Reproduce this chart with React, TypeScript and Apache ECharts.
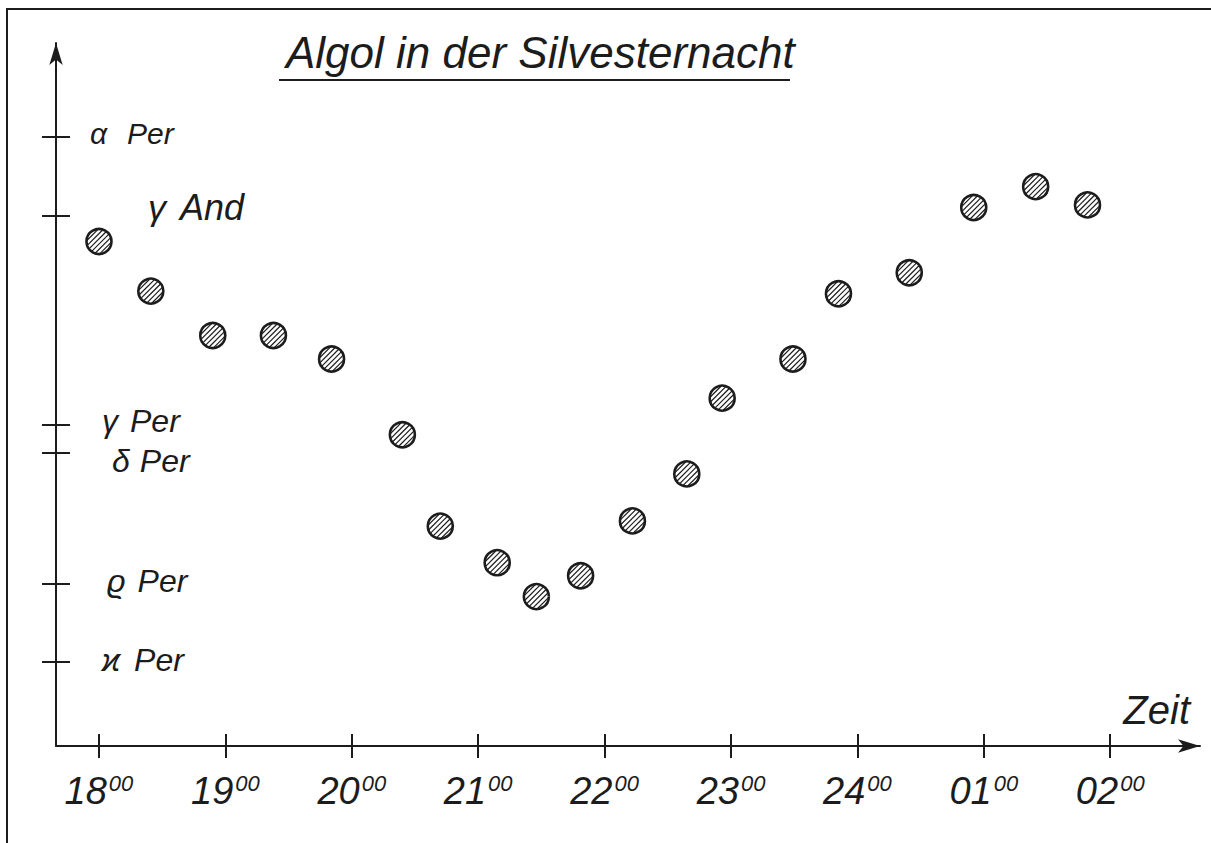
import { useEffect, useRef } from "react";
import * as echarts from "echarts";

// Observation times (hours since midnight of 31 Dec; 24 = midnight, 25 = 01:00 ...)
const times = [18.0, 18.41, 18.9, 19.38, 19.84, 20.4, 20.7, 21.15, 21.46, 21.81, 22.22, 22.65, 22.93, 23.49, 23.85, 24.41, 24.92, 25.41, 25.82];
// Estimated brightness of Algol (magnitude, smaller = brighter)
const brightness = [2.19, 2.38, 2.55, 2.55, 2.64, 2.93, 3.28, 3.42, 3.55, 3.47, 3.26, 3.08, 2.79, 2.64, 2.39, 2.31, 2.06, 1.98, 2.05];

// X axis ticks
const hourTicks = [18, 19, 20, 21, 22, 23, 24, 25, 26];
const hourLabels = ["18", "19", "20", "21", "22", "23", "24", "01", "02"];

// Comparison stars on the Y axis
const starGreek = ["α", "γ", "γ", "δ", "ϱ", "ϰ"];
const starNames = ["Per", "And", "Per", "Per", "Per", "Per"];
const starMags = [1.79, 2.09, 2.89, 3.0, 3.5, 3.8];

const INK = "#1c1c1c";
const FONT = "'Liberation Sans', 'DejaVu Sans', sans-serif";

// label layout tweaks (pixels): horizontal shift, vertical shift (neg = up), gap after greek letter, font size
const starLabelLayout = [
  { dx: 0, dy: -4, gap: 20, size: 30 },
  { dx: 58, dy: -8, gap: 14, size: 36 },
  { dx: 12, dy: -3, gap: 12, size: 32 },
  { dx: 22, dy: 8, gap: 10, size: 32 },
  { dx: 17, dy: -3, gap: 12, size: 32 },
  { dx: 12, dy: -2, gap: 14, size: 32 },
];

export default function App() {
  const ref = useRef<HTMLDivElement>(null);

  useEffect(() => {
    document.body.style.margin = "0";
    if (!ref.current) return;
    const chart = echarts.init(ref.current, undefined, { renderer: "svg" });

    const yMin = 1.43;
    const yMax = 4.122;
    const xMin = 17.66;
    const xMax = 26.71;

    const rich: Record<string, any> = {};
    starLabelLayout.forEach((l, i) => {
      const top = l.dy > 0 ? 2 * l.dy : 0;
      const bottom = l.dy < 0 ? -2 * l.dy : 0;
      rich["g" + i] = {
        fontSize: l.size,
        fontStyle: "italic",
        fontFamily: FONT,
        color: INK,
        padding: [top, l.gap, bottom, l.dx],
      };
      rich["n" + i] = {
        fontSize: l.size,
        fontStyle: "italic",
        fontFamily: FONT,
        color: INK,
        padding: [top, 0, bottom, 0],
      };
    });

    const lineStyle = { color: INK, width: 2 };

    const renderDot = (_params: any, api: any) => {
      const p = api.coord([api.value(0), api.value(1)]);
      const r = 12.5;
      const s = 3.7;
      const n = 6;
      const k = Math.SQRT1_2;
      const children: any[] = [
        { type: "circle", shape: { cx: p[0], cy: p[1], r }, style: { fill: "#ffffff", stroke: "none" } },
      ];
      for (let j = 0; j < n; j++) {
        const d = (j - (n - 1) / 2) * s;
        const L = Math.sqrt(Math.max(r * r - d * d, 0)) - 0.5;
        const cx = p[0] + d * k;
        const cy = p[1] + d * k;
        children.push({
          type: "line",
          shape: { x1: cx - L * k, y1: cy + L * k, x2: cx + L * k, y2: cy - L * k },
          style: { stroke: INK, lineWidth: 1.2 },
        });
      }
      children.push({
        type: "circle",
        shape: { cx: p[0], cy: p[1], r },
        style: { fill: "none", stroke: INK, lineWidth: 2.6 },
      });
      return { type: "group", children };
    };

    const option: any = {
      animation: false,
      backgroundColor: "#ffffff",
      title: {
        text: "Algol in der Silvesternacht",
        left: 286,
        top: 30,
        padding: 0,
        textStyle: {
          fontSize: 44,
          fontStyle: "italic",
          fontWeight: "normal",
          fontFamily: FONT,
          color: INK,
        },
      },
      grid: { left: 56, right: 11, top: 43, bottom: 97, containLabel: false },
      xAxis: [
        {
          type: "value",
          min: xMin,
          max: xMax,
          position: "bottom",
          axisLine: {
            show: true,
            onZero: false,
            lineStyle,
            symbol: ["none", "arrow"],
            symbolSize: [10, 22],
          },
          axisTick: { show: true, customValues: hourTicks, length: 12, lineStyle },
          axisLabel: {
            show: true,
            customValues: hourTicks,
            margin: 26,
            formatter: (v: number) => {
              const i = hourTicks.findIndex((h) => Math.abs(h - v) < 1e-6);
              return `{h|${hourLabels[i]}}{s|00}`;
            },
            rich: {
              h: { fontSize: 38, fontStyle: "italic", fontFamily: FONT, color: INK },
              s: { fontSize: 22, fontStyle: "italic", fontFamily: FONT, color: INK, verticalAlign: "top", padding: [0, 0, 0, 2] },
            },
          },
          splitLine: { show: false },
          name: "Zeit",
          nameLocation: "end",
          nameGap: -10,
          nameTextStyle: {
            fontSize: 40,
            fontStyle: "italic",
            fontFamily: FONT,
            color: INK,
            align: "right",
            verticalAlign: "bottom",
            padding: [0, 0, 16, 0],
          },
        },
        {
          type: "value",
          min: xMin,
          max: xMax,
          position: "bottom",
          axisLine: { show: false, onZero: false },
          axisTick: { show: true, inside: true, customValues: hourTicks, length: 12, lineStyle },
          axisLabel: { show: false },
          splitLine: { show: false },
        },
      ],
      yAxis: [
        {
          type: "value",
          inverse: true,
          min: yMin,
          max: yMax,
          position: "left",
          axisLine: {
            show: true,
            onZero: false,
            lineStyle,
            symbol: ["none", "arrow"],
            symbolSize: [10, 22],
          },
          axisTick: { show: true, customValues: starMags, length: 14, lineStyle },
          axisLabel: {
            show: true,
            inside: true,
            customValues: starMags,
            margin: 34,
            formatter: (v: number) => {
              const i = starMags.findIndex((m) => Math.abs(m - v) < 1e-6);
              if (i < 0) return "";
              return `{g${i}|${starGreek[i]}}{n${i}|${starNames[i]}}`;
            },
            rich,
          },
          splitLine: { show: false },
        },
        {
          type: "value",
          inverse: true,
          min: yMin,
          max: yMax,
          position: "left",
          axisLine: { show: false, onZero: false },
          axisTick: { show: true, inside: true, customValues: starMags, length: 14, lineStyle },
          axisLabel: { show: false },
          splitLine: { show: false },
        },
      ],
      graphic: [
        {
          type: "polyline",
          shape: { points: [[7, 843], [7, 9], [1211, 9]] },
          style: { stroke: INK, lineWidth: 2, fill: "none" },
        },
        {
          type: "line",
          shape: { x1: 279, y1: 80, x2: 790, y2: 80 },
          style: { stroke: INK, lineWidth: 2 },
        },
      ],
      series: [
        {
          type: "custom",
          name: "Algol",
          xAxisIndex: 0,
          yAxisIndex: 0,
          coordinateSystem: "cartesian2d",
          encode: { x: 0, y: 1 },
          data: times.map((t, i) => [t, brightness[i]]),
          renderItem: renderDot,
        },
      ],
    };

    chart.setOption(option);
    return () => chart.dispose();
  }, []);

  return <div ref={ref} style={{ width: 1211, height: 843 }} />;
}
